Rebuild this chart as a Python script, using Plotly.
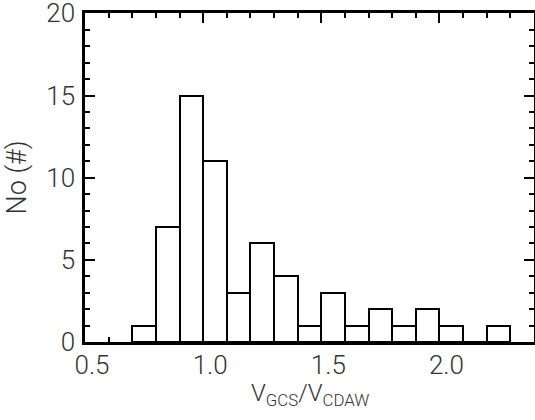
import plotly.graph_objects as go

bin_left = [0.7, 0.8, 0.9, 1.0, 1.1, 1.2, 1.3, 1.4, 1.5, 1.6, 1.7, 1.8, 1.9, 2.0, 2.1, 2.2]
counts = [1, 7, 15, 11, 3, 6, 4, 1, 3, 1, 2, 1, 2, 1, 0, 1]
bin_width = 0.1
x_tick_vals = [0.5, 1.0, 1.5, 2.0]
x_tick_text = ["0.5", "1.0", "1.5", "2.0"]
y_tick_vals = [0, 5, 10, 15, 20]
y_tick_text = ["0", "5", "10", "15", "20"]
x_title = "V<sub>GCS</sub>/V<sub>CDAW</sub>"
y_title = "No (#)"

centers = [b + bin_width / 2 for b in bin_left]

FONT = "Roboto"
TXT = "#333"
fig = go.Figure()
fig.add_trace(go.Bar(
    x=centers, y=counts, width=[bin_width] * len(counts),
    marker=dict(color="white", line=dict(color="black", width=2)),
    showlegend=False, hoverinfo="x+y",
))

axis_common = dict(
    showline=True, linecolor="black", linewidth=2.5, mirror="allticks",
    ticks="inside", ticklen=10, tickwidth=2, tickcolor="black",
    showgrid=False, zeroline=False, automargin=False,
    ticklabeloverflow="allow",
    tickfont=dict(family=FONT, size=26, color=TXT, weight=300),
)

fig.update_layout(
    width=535, height=420,
    margin=dict(l=85, r=1, t=13, b=78),
    plot_bgcolor="white", paper_bgcolor="white",
    bargap=0,
    xaxis=dict(
        range=[0.5, 2.4], tickvals=x_tick_vals, ticktext=x_tick_text,
        minor=dict(ticks="inside", ticklen=5, dtick=0.1, tick0=0.5, tickwidth=2, tickcolor="black"),
        ticklabelshift=7, ticklabelstandoff=-2,
        **axis_common,
    ),
    yaxis=dict(
        range=[0, 20.02], tickvals=y_tick_vals, ticktext=y_tick_text,
        minor=dict(ticks="inside", ticklen=5, dtick=1, tickwidth=2, tickcolor="black"),
        ticklabelstandoff=2,
        title=dict(text=y_title, font=dict(family=FONT, size=27, color=TXT, weight=300), standoff=12),
        **axis_common,
    ),
    annotations=[dict(
        text=x_title, xref="paper", yref="paper", x=0.5, y=-0.105,
        xanchor="center", yanchor="top", showarrow=False,
        font=dict(family=FONT, size=24, color=TXT, weight=300),
    )],
)

fig.write_html("out.html", config={"displayModeBar": False},
               post_script="document.body.style.margin='0';document.body.style.padding='0';")
